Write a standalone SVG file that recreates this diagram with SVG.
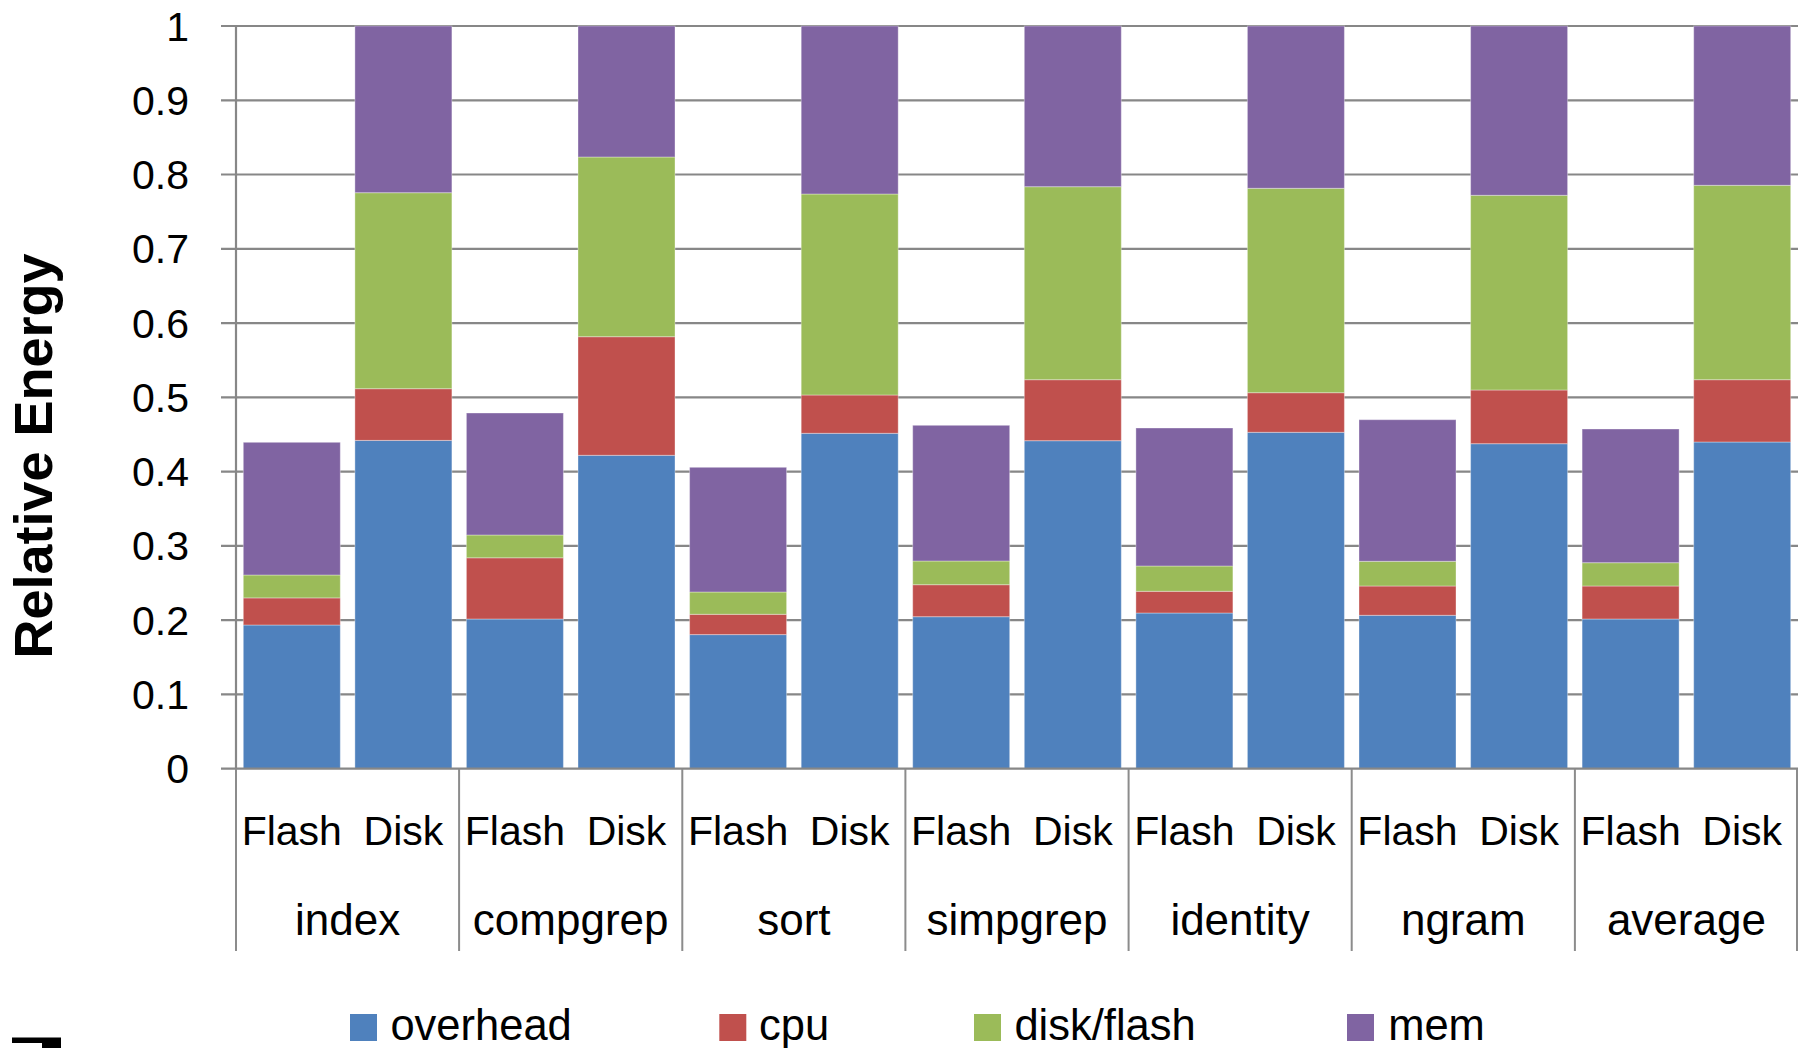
<svg xmlns="http://www.w3.org/2000/svg" width="1806" height="1048" viewBox="0 0 1806 1048">
  <style>
    text { font-family: "Liberation Sans", Arial, sans-serif; fill: #000; }
    .grid { stroke: #878787; stroke-width: 2.2; fill: none; }
    .sep { stroke: #8c8c8c; stroke-width: 2; fill: none; }
    .tick { font-size: 41px; text-anchor: end; }
    .cat { font-size: 41px; text-anchor: middle; }
    .grp { font-size: 44px; text-anchor: middle; }
    .leg { font-size: 43.5px; }
    .title { font-size: 54px; font-weight: bold; text-anchor: middle; }
    .ov { fill: #4F81BD; }
    .cp { fill: #C0504D; }
    .dk { fill: #9BBB59; }
    .me { fill: #8064A2; }
    .bar rect { stroke: #ffffff; stroke-opacity: 0.35; stroke-width: 1; }
  </style>

  <rect x="0" y="0" width="1806" height="1048" fill="#ffffff"/>

  <!-- horizontal gridlines with left tick marks -->
  <g id="gridlines">
    <path class="grid" d="M221 26 H1798 M221 100.3 H1798 M221 174.5 H1798 M221 248.8 H1798 M221 323.1 H1798 M221 397.4 H1798 M221 471.6 H1798 M221 545.9 H1798 M221 620.2 H1798 M221 694.4 H1798"/>
  </g>

  <!-- y-axis tick labels -->
  <g id="y-labels">
    <text class="tick" x="189" y="40.5">1</text>
    <text class="tick" x="189" y="114.8">0.9</text>
    <text class="tick" x="189" y="189">0.8</text>
    <text class="tick" x="189" y="263.3">0.7</text>
    <text class="tick" x="189" y="337.6">0.6</text>
    <text class="tick" x="189" y="411.9">0.5</text>
    <text class="tick" x="189" y="486.1">0.4</text>
    <text class="tick" x="189" y="560.4">0.3</text>
    <text class="tick" x="189" y="634.7">0.2</text>
    <text class="tick" x="189" y="708.9">0.1</text>
    <text class="tick" x="189" y="783.2">0</text>
  </g>

  <g id="y-title">
    <text class="title" transform="translate(52,456) rotate(-90)">Relative Energy</text>
  </g>

  <!-- stacked bars: overhead, cpu, disk/flash, mem from bottom up -->
  <g id="bar-index-flash" class="bar">
    <rect class="ov" x="243.3" y="625.0" width="97" height="143.7"/>
    <rect class="cp" x="243.3" y="597.9" width="97" height="27.1"/>
    <rect class="dk" x="243.3" y="575.0" width="97" height="22.9"/>
    <rect class="me" x="243.3" y="442.3" width="97" height="132.7"/>
  </g>
  <g id="bar-index-disk" class="bar">
    <rect class="ov" x="354.9" y="440.4" width="97" height="328.3"/>
    <rect class="cp" x="354.9" y="388.7" width="97" height="51.7"/>
    <rect class="dk" x="354.9" y="192.7" width="97" height="196.0"/>
    <rect class="me" x="354.9" y="26.0" width="97" height="166.7"/>
  </g>
  <g id="bar-compgrep-flash" class="bar">
    <rect class="ov" x="466.4" y="619.0" width="97" height="149.7"/>
    <rect class="cp" x="466.4" y="557.8" width="97" height="61.2"/>
    <rect class="dk" x="466.4" y="535.0" width="97" height="22.8"/>
    <rect class="me" x="466.4" y="413.0" width="97" height="122.0"/>
  </g>
  <g id="bar-compgrep-disk" class="bar">
    <rect class="ov" x="578.0" y="455.3" width="97" height="313.4"/>
    <rect class="cp" x="578.0" y="336.7" width="97" height="118.6"/>
    <rect class="dk" x="578.0" y="157.0" width="97" height="179.7"/>
    <rect class="me" x="578.0" y="26.0" width="97" height="131.0"/>
  </g>
  <g id="bar-sort-flash" class="bar">
    <rect class="ov" x="689.6" y="634.6" width="97" height="134.1"/>
    <rect class="cp" x="689.6" y="614.3" width="97" height="20.3"/>
    <rect class="dk" x="689.6" y="592.0" width="97" height="22.3"/>
    <rect class="me" x="689.6" y="467.3" width="97" height="124.7"/>
  </g>
  <g id="bar-sort-disk" class="bar">
    <rect class="ov" x="801.2" y="433.3" width="97" height="335.4"/>
    <rect class="cp" x="801.2" y="395.0" width="97" height="38.3"/>
    <rect class="dk" x="801.2" y="194.0" width="97" height="201.0"/>
    <rect class="me" x="801.2" y="26.0" width="97" height="168.0"/>
  </g>
  <g id="bar-simpgrep-flash" class="bar">
    <rect class="ov" x="912.7" y="616.7" width="97" height="152.0"/>
    <rect class="cp" x="912.7" y="584.7" width="97" height="32.0"/>
    <rect class="dk" x="912.7" y="561.0" width="97" height="23.7"/>
    <rect class="me" x="912.7" y="425.3" width="97" height="135.7"/>
  </g>
  <g id="bar-simpgrep-disk" class="bar">
    <rect class="ov" x="1024.3" y="440.7" width="97" height="328.0"/>
    <rect class="cp" x="1024.3" y="379.7" width="97" height="61.0"/>
    <rect class="dk" x="1024.3" y="186.7" width="97" height="193.0"/>
    <rect class="me" x="1024.3" y="26.0" width="97" height="160.7"/>
  </g>
  <g id="bar-identity-flash" class="bar">
    <rect class="ov" x="1135.9" y="613.0" width="97" height="155.7"/>
    <rect class="cp" x="1135.9" y="591.3" width="97" height="21.7"/>
    <rect class="dk" x="1135.9" y="566.0" width="97" height="25.3"/>
    <rect class="me" x="1135.9" y="428.0" width="97" height="138.0"/>
  </g>
  <g id="bar-identity-disk" class="bar">
    <rect class="ov" x="1247.4" y="432.3" width="97" height="336.4"/>
    <rect class="cp" x="1247.4" y="392.7" width="97" height="39.6"/>
    <rect class="dk" x="1247.4" y="188.3" width="97" height="204.4"/>
    <rect class="me" x="1247.4" y="26.0" width="97" height="162.3"/>
  </g>
  <g id="bar-ngram-flash" class="bar">
    <rect class="ov" x="1359.0" y="615.3" width="97" height="153.4"/>
    <rect class="cp" x="1359.0" y="586.0" width="97" height="29.3"/>
    <rect class="dk" x="1359.0" y="561.3" width="97" height="24.7"/>
    <rect class="me" x="1359.0" y="419.7" width="97" height="141.6"/>
  </g>
  <g id="bar-ngram-disk" class="bar">
    <rect class="ov" x="1470.6" y="443.7" width="97" height="325.0"/>
    <rect class="cp" x="1470.6" y="390.0" width="97" height="53.7"/>
    <rect class="dk" x="1470.6" y="195.3" width="97" height="194.7"/>
    <rect class="me" x="1470.6" y="26.0" width="97" height="169.3"/>
  </g>
  <g id="bar-average-flash" class="bar">
    <rect class="ov" x="1582.1" y="619.0" width="97" height="149.7"/>
    <rect class="cp" x="1582.1" y="586.0" width="97" height="33.0"/>
    <rect class="dk" x="1582.1" y="562.7" width="97" height="23.3"/>
    <rect class="me" x="1582.1" y="429.0" width="97" height="133.7"/>
  </g>
  <g id="bar-average-disk" class="bar">
    <rect class="ov" x="1693.7" y="442.0" width="97" height="326.7"/>
    <rect class="cp" x="1693.7" y="379.7" width="97" height="62.3"/>
    <rect class="dk" x="1693.7" y="185.3" width="97" height="194.4"/>
    <rect class="me" x="1693.7" y="26.0" width="97" height="159.3"/>
  </g>

  <!-- axes and category separators -->
  <g id="axes">
    <path class="grid" d="M221 768.7 H1798 M236 26 V768.7"/>
    <path class="sep" d="M236 768.7 V951 M459.1 768.7 V951 M682.3 768.7 V951 M905.4 768.7 V951 M1128.6 768.7 V951 M1351.7 768.7 V951 M1574.9 768.7 V951 M1797 768.7 V951"/>
  </g>

  <!-- inner category labels -->
  <g id="x-labels-inner">
    <text class="cat" x="291.8" y="845">Flash</text>
    <text class="cat" x="403.4" y="845">Disk</text>
    <text class="cat" x="514.9" y="845">Flash</text>
    <text class="cat" x="626.5" y="845">Disk</text>
    <text class="cat" x="738.1" y="845">Flash</text>
    <text class="cat" x="849.7" y="845">Disk</text>
    <text class="cat" x="961.2" y="845">Flash</text>
    <text class="cat" x="1072.8" y="845">Disk</text>
    <text class="cat" x="1184.4" y="845">Flash</text>
    <text class="cat" x="1296.0" y="845">Disk</text>
    <text class="cat" x="1407.5" y="845">Flash</text>
    <text class="cat" x="1519.1" y="845">Disk</text>
    <text class="cat" x="1630.7" y="845">Flash</text>
    <text class="cat" x="1742.2" y="845">Disk</text>
  </g>

  <!-- workload group labels -->
  <g id="x-labels-outer">
    <text class="grp" x="347.6" y="935">index</text>
    <text class="grp" x="570.7" y="935">compgrep</text>
    <text class="grp" x="793.9" y="935">sort</text>
    <text class="grp" x="1017.0" y="935">simpgrep</text>
    <text class="grp" x="1240.1" y="935">identity</text>
    <text class="grp" x="1463.3" y="935">ngram</text>
    <text class="grp" x="1686.4" y="935">average</text>
  </g>

  <!-- legend -->
  <g id="legend">
    <g id="legend-overhead">
      <rect class="ov" x="350" y="1014" width="27" height="27"/>
      <text class="leg" x="390.4" y="1040">overhead</text>
    </g>
    <g id="legend-cpu">
      <rect class="cp" x="719.3" y="1014" width="27" height="27"/>
      <text class="leg" x="759" y="1040">cpu</text>
    </g>
    <g id="legend-disk">
      <rect class="dk" x="974" y="1014" width="27" height="27"/>
      <text class="leg" x="1014.4" y="1040">disk/flash</text>
    </g>
    <g id="legend-mem">
      <rect class="me" x="1347" y="1014" width="27" height="27"/>
      <text class="leg" x="1388.2" y="1040">mem</text>
    </g>
  </g>

  <!-- small dark mark at the lower left edge -->
  <path d="M12 1037.5 H61 V1048 H42 V1043 H12 Z" fill="#000"/>
</svg>
